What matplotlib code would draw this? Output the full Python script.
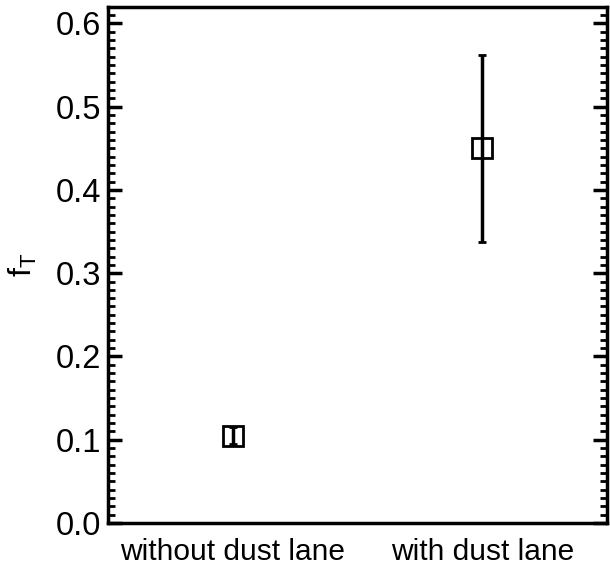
import numpy as np
import matplotlib.pyplot as plt
from matplotlib.ticker import MultipleLocator

plt.rcParams['font.family'] = ['Liberation Sans', 'DejaVu Sans']

# data
categories = ['without dust lane', 'with dust lane']
f_T = [0.105, 0.450]
f_T_err = [0.010, 0.112]
xpos = [1, 2]

fig = plt.figure(figsize=(6.10, 5.69), dpi=100)
ax = fig.add_axes([0.177, 0.081, 0.818, 0.907])

ax.errorbar(xpos, f_T, yerr=f_T_err, fmt='s', ms=14, mfc='none', mec='black',
            mew=2, ecolor='black', elinewidth=2.5, capsize=3, capthick=2.5)

ax.set_xlim(0.5, 2.5)
ax.set_ylim(0, 0.62)
ax.set_xticks(xpos)
ax.set_xticklabels(categories, fontsize=21.5)
ax.tick_params(axis='x', length=0, pad=11)
ax.yaxis.set_major_locator(MultipleLocator(0.1))
ax.yaxis.set_minor_locator(MultipleLocator(0.01))
ax.yaxis.set_major_formatter(plt.FormatStrFormatter('%.1f'))
ax.tick_params(axis='y', which='major', direction='in', length=10, width=2.5,
               left=True, right=True, labelsize=23.5, pad=5)
ax.tick_params(axis='y', which='minor', direction='in', length=5, width=2,
               left=True, right=True)
for s in ax.spines.values():
    s.set_linewidth(2.5)

ax.set_ylabel(r'f$_\mathregular{T}$', fontsize=23, labelpad=12)

plt.savefig('out.png', dpi=100)
